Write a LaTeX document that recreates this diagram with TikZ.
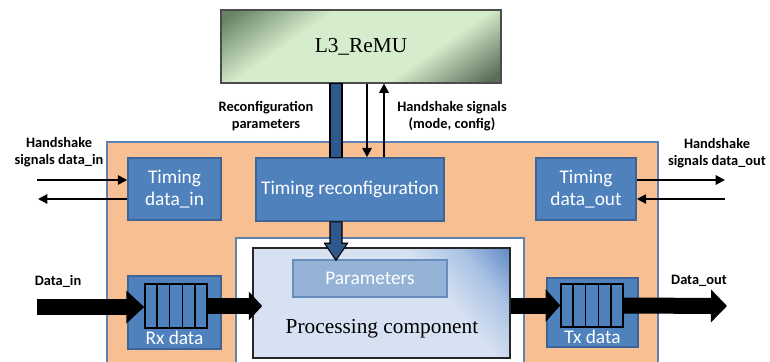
\documentclass[tikz,border=0pt]{standalone}
\usepackage{fontspec}
\setmainfont{Liberation Serif}
\newfontfamily\calib{Carlito}
\usetikzlibrary{arrows.meta,calc}
\definecolor{boxblue}{RGB}{79,129,189}
\definecolor{boxedge}{RGB}{60,100,150}
\definecolor{orangefill}{RGB}{248,191,146}
\definecolor{orangeedge}{RGB}{95,130,180}
\definecolor{paramfill}{RGB}{149,179,215}
\definecolor{paramedge}{RGB}{105,140,190}
\definecolor{barblue}{RGB}{47,88,140}
\definecolor{remudark}{RGB}{88,110,88}
\definecolor{remudarkb}{RGB}{105,130,102}
\definecolor{remulight}{RGB}{214,237,205}
\definecolor{proclight}{RGB}{214,225,241}
\definecolor{procmid}{RGB}{170,194,228}
\definecolor{procdark}{RGB}{90,134,194}
\pgfdeclareverticalshading{remushade}{100bp}{color(0bp)=(remudark); color(18bp)=(remudark); color(36bp)=(remulight); color(64bp)=(remulight); color(82bp)=(remudarkb); color(100bp)=(remudarkb)}
\pgfdeclareverticalshading{procshade}{100bp}{color(0bp)=(proclight); color(25bp)=(proclight); color(64bp)=(proclight); color(75bp)=(procmid); color(86bp)=(procdark); color(100bp)=(procdark)}
\begin{document}
\begin{tikzpicture}[x=0.75pt,y=-0.75pt,
  bluebox/.style={draw=boxedge, line width=1.2pt, fill=boxblue, text=white, font=\calib\fontsize{14.5}{16.5}\selectfont, align=center, inner sep=0pt},
  lbl/.style={font=\calib\bfseries\fontsize{10.8}{12.8}\selectfont, align=center, inner sep=0pt},
  thinarrow/.style={line width=1.5pt, -{Triangle[length=7pt,width=7pt]}},
  bigarrow/.style={line width=12pt, draw=black},
  bar/.style={fill=barblue, draw=black, line width=0.8pt},
  qbox/.style={draw=black, line width=1.1pt, fill=boxblue, inner sep=0pt}]
\useasboundingbox (0,0) rectangle (770,361);
\clip (0,0) rectangle (770,361);
% main boxes
\node[draw=black!70, line width=0.8pt, shading=remushade, shading angle=35, minimum width=210pt, minimum height=54.75pt, inner sep=0pt, font=\fontsize{16}{19}\selectfont] (l3) at (361,46.5) {L3\_ReMU};
\node[draw=orangeedge, line width=1.1pt, fill=orangefill, minimum width=413.25pt, minimum height=178.5pt] (core) at (382.5,261) {};
\node[draw=orangeedge, line width=1.1pt, fill=white, minimum width=216pt, minimum height=106.5pt] (wbox) at (380,309) {};
\node[draw=black!85, line width=1.2pt, shading=procshade, shading angle=-50, minimum width=192.75pt, minimum height=82.5pt] (proc) at (381.5,303) {};
\node[font=\fontsize{16}{19}\selectfont, inner sep=0pt] (proct) at (382,329) {Processing component};
\node[draw=paramedge, line width=1.1pt, fill=paramfill, text=white, font=\calib\fontsize{14.5}{16.5}\selectfont, minimum width=115.5pt, minimum height=27.75pt, inner sep=0pt] (params) at (370,278.5) {Parameters};
\node[bluebox, minimum width=69.75pt, minimum height=46.5pt] (tin) at (174.5,189) {Timing\\data\_in};
\node[bluebox, minimum width=141pt, minimum height=47.25pt] (reconf) at (350,189.5) {Timing reconfiguration};
\node[bluebox, minimum width=75pt, minimum height=46.5pt] (tout) at (586,189) {Timing\\data\_out};
\node[bluebox, minimum width=69.75pt, minimum height=54.75pt] (rx) at (174.5,312.5) {};
\node[bluebox, minimum width=68.25pt, minimum height=51.75pt] (tx) at (592.5,312.5) {};
\node[bluebox, draw=none, fill=none] (rxt) at (174.5,338) {Rx data};
\node[bluebox, draw=none, fill=none] (txt) at (592.5,337) {Tx data};
% queues
\node[qbox, minimum width=46.5pt, minimum height=33pt] (rxq) at (176,306) {};
\node[qbox, minimum width=46.5pt, minimum height=32.25pt] (txq) at (592,305.5) {};
\foreach \q in {rxq,txq}{
  \foreach \i in {1,...,4}{
    \draw[line width=1.1pt] ($(\q.north west)!\i/5!(\q.north east)$) -- ($(\q.south west)!\i/5!(\q.south east)$);
  }
}
% bar from L3 to reconfiguration
\coordinate (bx) at (336,0);
\draw[bar] ($(l3.south -| bx)+(-6,0)$) rectangle ($(reconf.north -| bx)+(6,0)$);
\draw[bar] ($(reconf.south -| bx)+(-6,0)$) -- ($(params.north -| bx)+(-6,-16)$) -- ($(params.north -| bx)+(-11.5,-16)$) -- ($(params.north -| bx)+(0,1)$) -- ($(params.north -| bx)+(11.5,-16)$) -- ($(params.north -| bx)+(6,-16)$) -- ($(reconf.south -| bx)+(6,0)$) -- cycle;
% handshake with L3
\coordinate (hd) at (367,0);
\coordinate (hu) at (384,0);
\draw[thinarrow] (l3.south -| hd) -- (reconf.north -| hd);
\draw[thinarrow] (reconf.north -| hu) -- (l3.south -| hu);
% handshake left / right
\coordinate (hl1) at (37,180);
\coordinate (hl2) at (38,199);
\coordinate (hr1) at (725,180);
\coordinate (hr2) at (725,199);
\draw[thinarrow] (hl1) -- (tin.west |- hl1);
\draw[thinarrow] (tin.west |- hl2) -- (hl2);
\draw[thinarrow] (tout.east |- hr1) -- (hr1);
\draw[thinarrow] (hr2) -- (tout.east |- hr2);
% data arrows
\coordinate (din) at (37,307);
\coordinate (dout) at (727,306);
\draw[bigarrow, -{Triangle[length=13.5pt,width=24pt]}] (din) -- (rxq.west |- din);
\draw[bigarrow, -{Triangle[length=10pt,width=21pt]}] (rxq.east) -- ($(proc.west |- rxq.east)+(10,0)$);
\draw[bigarrow, -{Triangle[length=11pt,width=24pt]}] (proc.east |- txq.west) -- (txq.west);
\draw[bigarrow, -{Triangle[length=12pt,width=24pt]}] (txq.east) -- (dout);
% labels
\node[lbl] (lhin) at (59,152) {Handshake\\signals data\_in};
\node[lbl] (ldin) at (58,281) {Data\_in};
\node[lbl] (lrp) at (266,116) {Reconfiguration\\parameters};
\node[lbl] (lhs) at (452,116) {Handshake signals\\(mode, config)};
\node[lbl] (lhout) at (717,153) {Handshake\\signals data\_out};
\node[lbl] (ldout) at (699,281) {Data\_out};
\end{tikzpicture}
\end{document}
